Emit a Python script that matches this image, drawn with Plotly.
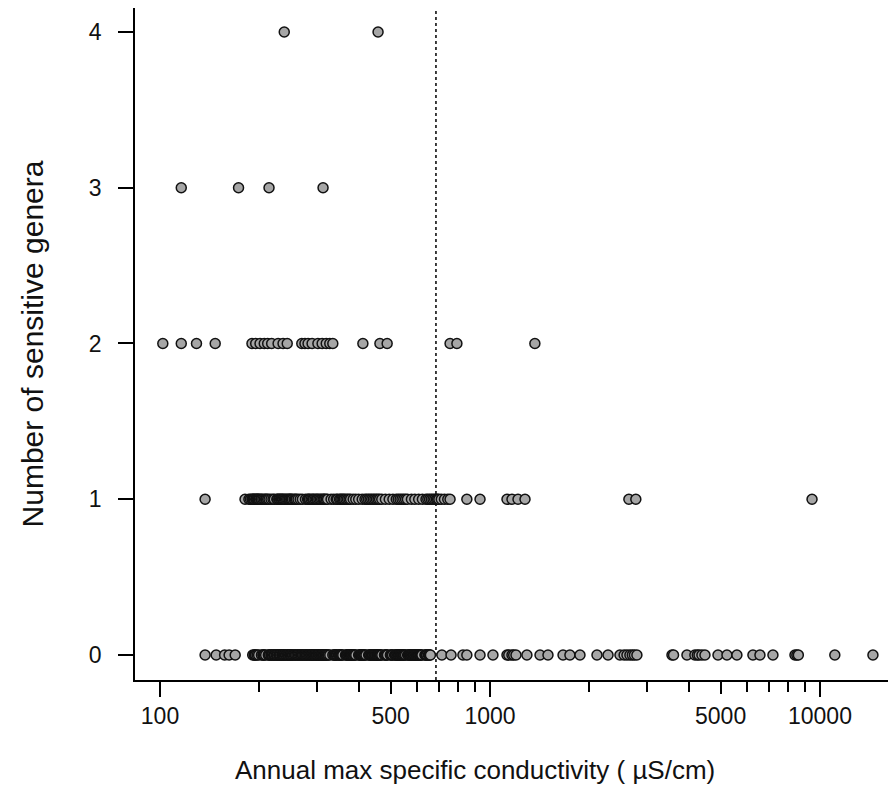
import math
import plotly.graph_objects as go

# Annual max specific conductivity (uS/cm) of sites, grouped by number of sensitive genera
cond_zero = [137, 148, 157, 162, 169,
             191, 193, 194, 195, 197, 199, 203, 205, 206, 207, 209, 213, 214, 215,
             217, 218, 219, 221, 222, 223, 225, 226, 227, 229, 230, 231, 232, 234,
             235, 236, 237, 238, 240, 241, 243, 244, 245, 247, 248, 249, 250, 252,
             253, 255, 257, 258, 260, 262, 263, 265, 267, 268, 270, 271, 273, 275,
             276, 278, 279, 281, 283, 284, 286, 287, 289, 290, 292, 293, 295, 296,
             298, 299, 301, 302, 304, 305, 307, 308, 310, 311, 313, 314, 316, 317,
             319, 320, 322, 324, 327, 334, 337, 338, 340, 342, 344, 347, 349, 351,
             353, 354, 356, 358, 365, 367, 369, 371, 373, 375, 377, 379, 380, 382,
             384, 386, 388, 390, 392, 400, 402, 404, 406, 408, 410, 412, 414, 416,
             418, 421, 429, 431, 433, 436, 438, 440, 442, 445, 447, 449, 451, 454,
             456, 458, 460, 462, 465, 467, 470, 479, 482, 484, 487, 489, 499, 502,
             504, 507, 514, 517, 519, 522, 525, 527, 530, 533, 535, 538, 541, 544,
             546, 549, 552, 555, 563, 566, 569, 572, 574, 577, 580, 583, 586, 589,
             592, 595, 598, 601, 604, 607, 610, 613, 616, 619, 622, 635, 638, 641,
             644, 651, 654, 657, 660,
             715, 762, 828, 851, 933, 1021, 1126, 1140, 1166, 1180, 1199, 1294, 1418,
             1499, 1665, 1747, 1874, 2110, 2279, 2477, 2550, 2601, 2655, 2700, 2740,
             2788, 3561, 3600, 3953, 4178, 4250, 4300, 4388, 4482, 4909, 5226, 5602,
             6264, 6579, 7203, 8400, 8511, 8600, 11093, 14473]
cond_one = [137,
            181, 186, 188, 190, 191, 192, 193, 195, 196, 197, 198, 199, 200, 202,
            203, 205, 207, 209, 210, 212, 214, 217, 220, 222, 226, 227, 229, 230,
            232, 233, 235, 236, 238, 240, 242, 244, 246, 247, 249, 250, 252, 255,
            257, 259, 262, 266, 270, 276, 280, 282, 284, 287, 290, 292, 295, 298,
            300, 303, 306, 309, 312, 314, 316, 319, 322, 330, 336, 342, 345, 350,
            353, 356, 359, 362, 366, 370, 374, 378, 385, 392, 400, 410, 418, 423,
            428, 433, 438, 443, 448, 453, 458, 463, 470, 482, 495, 508, 520, 527,
            534, 541, 548, 555, 562, 578, 592, 608, 624, 640, 648, 656, 664, 672,
            680, 688, 694, 700, 712, 728, 745, 757,
            851, 933, 1126, 1166, 1216, 1277, 2636, 2767, 9462]
cond_two = [102, 116, 129, 147, 190, 195, 201, 207, 212, 218, 228, 236, 243,
            269, 275, 281, 289, 301, 310, 319, 327, 334, 412, 464, 488, 757, 794, 1368]
cond_three = [116, 173, 214, 312]
cond_four = [238, 458]

threshold = 686  # dotted reference line (uS/cm)

x_range = [84, 17000]
y_range = [-0.1605, 4.154]
x_tick_vals = [100, 500, 1000, 5000, 10000]
x_tick_text = ["100", "500", "1000", "5000", "10000"]
x_decade_vals = [100, 1000, 10000]
x_minor_vals = [200, 300, 400, 600, 700, 800, 900, 2000, 3000, 4000, 6000, 7000, 8000, 9000]
y_tick_vals = [0, 1, 2, 3, 4]
x_title = "Annual max specific conductivity ( \u00b5S/cm)"
y_title = "Number of sensitive genera"

groups = [(0, cond_zero), (1, cond_one), (2, cond_two), (3, cond_three), (4, cond_four)]
xs, ys = [], []
for count, vals in groups:
    for v in sorted(vals):
        xs.append(v)
        ys.append(count)

lx = [math.log10(x_range[0]), math.log10(x_range[1])]

fig = go.Figure()
fig.add_trace(go.Scatter(
    x=[threshold, threshold], y=y_range, mode="lines",
    line=dict(color="black", width=1.5, dash="dot"), hoverinfo="skip", showlegend=False))
fig.add_trace(go.Scatter(
    x=xs, y=ys, mode="markers",
    marker=dict(symbol="circle", size=10, color="#a6a6a6",
                line=dict(color="#111111", width=1.5)),
    showlegend=False))
# helper trace for the decade-tick axis
fig.add_trace(go.Scatter(x=[x_range[0]], y=[y_range[0]], xaxis="x2", mode="markers",
                         marker=dict(opacity=0), hoverinfo="skip", showlegend=False))

font = "Liberation Sans, Arial, sans-serif"
fig.update_layout(
    width=888, height=796,
    margin=dict(l=127, r=0, t=0, b=124, autoexpand=False),
    plot_bgcolor="white", paper_bgcolor="white",
    font=dict(family=font, color="#111111"),
    xaxis=dict(
        type="log", range=lx, showgrid=False, zeroline=False, automargin=False,
        showline=True, mirror=True, linecolor="black", linewidth=1.5,
        tickmode="array", tickvals=x_tick_vals, ticktext=x_tick_text,
        ticks="outside", ticklen=12, tickwidth=1.5, tickcolor="black",
        tickfont=dict(size=23), ticklabelstandoff=3,
        minor=dict(tickmode="array", tickvals=x_minor_vals, ticks="outside",
                   ticklen=10, tickwidth=1.5, tickcolor="black", showgrid=False),
    ),
    xaxis2=dict(
        type="log", range=lx, overlaying="x", anchor="y", side="bottom",
        showgrid=False, zeroline=False, showline=False, automargin=False,
        tickmode="array", tickvals=x_decade_vals, showticklabels=False,
        ticks="outside", ticklen=16, tickwidth=1.5, tickcolor="black",
    ),
    yaxis=dict(
        range=y_range, showgrid=False, zeroline=False, automargin=False,
        showline=True, mirror=False, linecolor="black", linewidth=1.5,
        tickmode="array", tickvals=y_tick_vals,
        ticks="outside", ticklen=15, tickwidth=1.5, tickcolor="black",
        tickfont=dict(size=23), ticklabelstandoff=12,
        title=dict(text=y_title, font=dict(size=30), standoff=36),
    ),
    annotations=[dict(
        text=x_title, xref="paper", yref="paper", x=0.4468, y=-0.134,
        xanchor="center", yanchor="middle", showarrow=False,
        font=dict(size=26, family=font, color="#111111"))],
)

fig.write_html("out.html")
